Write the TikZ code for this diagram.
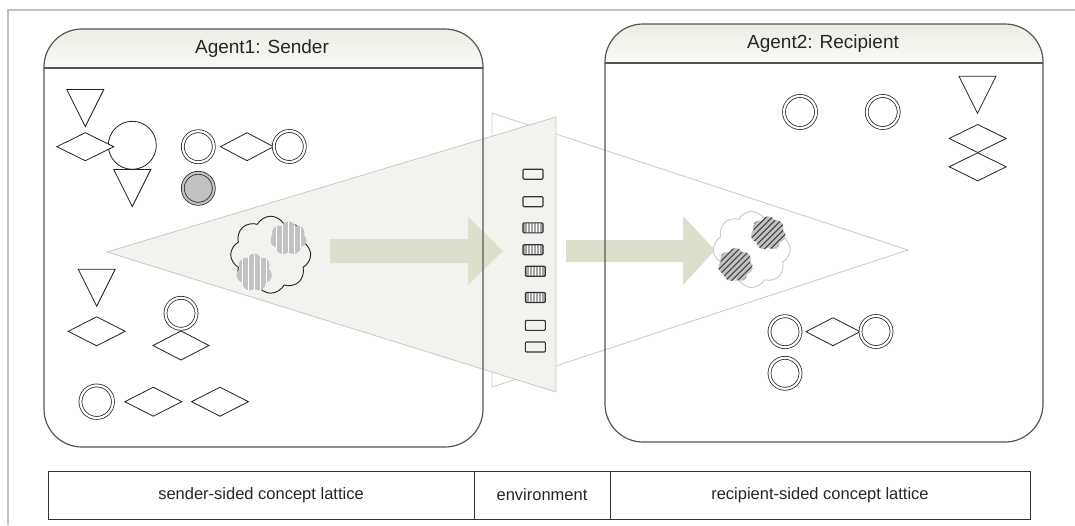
\documentclass[tikz,border=0pt]{standalone}
\usepackage{fontspec}
\setmainfont{Liberation Sans}
\usetikzlibrary{shapes.geometric,shapes.symbols}
\definecolor{trifill}{HTML}{F2F3EE}
\definecolor{triline}{HTML}{C9C9C4}
\definecolor{arrowfill}{HTML}{DCDFCB}
\definecolor{boxc}{HTML}{555555}
\definecolor{shpc}{HTML}{222222}
\definecolor{greyc}{HTML}{C2C2C2}
\definecolor{framec}{HTML}{C0C0C0}
\definecolor{headtop}{HTML}{ECEDE4}
\definecolor{headbot}{HTML}{F9F9F6}
\definecolor{cloudline}{HTML}{C8C8C8}
\definecolor{tablec}{HTML}{333333}
\tikzset{
  tri/.pic={\path[draw=shpc, line width=0.8pt, fill=white] (-18.5,-18.5) -- (18.5,-18.5) -- (0,18.5) -- cycle;},
}
\begin{document}
\begin{tikzpicture}[x=1pt,y=-1pt,
  shp/.style={draw=shpc, line width=0.8pt, fill=white},
  dia/.style={shp, diamond, minimum width=57pt, minimum height=28pt, inner sep=0pt, outer sep=0pt},
  dcirc/.style={circle, draw=shpc, line width=0.75pt, double=white, double distance=2.2pt, fill=white, minimum size=31pt, inner sep=0pt},
  agentbox/.style={rectangle, inner sep=0pt, outer sep=0pt, fill=white, rounded corners=38pt},
  boxline/.style={draw=boxc, line width=1.2pt, rounded corners=38pt},
  title/.style={font=\fontsize{19}{22}\selectfont, text=black!85},
  cell/.style={draw=tablec, line width=0.8pt, minimum height=48pt, inner sep=0pt, outer sep=0pt, font=\fontsize{16.5}{19}\selectfont, text=black!85},
  stripesV/.style={path picture={\foreach \k in {-4,...,4}{\draw[white,line width=1.1pt] ([xshift=\k*6pt]path picture bounding box.north) -- ([xshift=\k*6pt]path picture bounding box.south);}}},
  hatchD/.style={path picture={\foreach \k in {-7,...,7}{\draw[black!75,line width=1pt] ([xshift=\k*6pt-25pt,yshift=-25pt]path picture bounding box.center) -- ([xshift=\k*6pt+25pt,yshift=25pt]path picture bounding box.center);}}},
  subcloud/.style={cloud, cloud puffs=7, cloud puff arc=130, cloud ignores aspect, fill=greyc, inner sep=0pt},
  msg/.style={rectangle, draw=black!80, line width=1.1pt, rounded corners=1pt, minimum width=20pt, minimum height=10pt, inner sep=0pt, fill=trifill},
  msgS/.style={msg, fill=black!35, path picture={\foreach \k in {-6,-3,0,3,6}{\draw[white,line width=0.7pt] ([xshift=\k pt]path picture bounding box.north) -- ([xshift=\k pt]path picture bounding box.south);}}},
]
\useasboundingbox (0,0) rectangle (1075,525);
% outer frame
\draw[framec, line width=1.5pt] (8,525) -- (8,10) -- (1075,10);

% agent box fills
\node[agentbox, minimum width=439pt, minimum height=418pt] (A1) at (263.5,238) {};
\node[agentbox, minimum width=438pt, minimum height=418pt] (A2) at (824,233) {};
\begin{scope}
  \clip[rounded corners=38pt] (A1.north west) rectangle (A1.south east);
  \shade[top color=headtop, bottom color=headbot] (A1.north west) rectangle (A1.east |- 0,68);
\end{scope}
\begin{scope}
  \clip[rounded corners=38pt] (A2.north west) rectangle (A2.south east);
  \shade[top color=headtop, bottom color=headbot] (A2.north west) rectangle (A2.east |- 0,63);
\end{scope}

% perception triangles
\coordinate (T2tip) at (908,250);
\coordinate (T2a) at (492,113);
\coordinate (T2b) at (492,387);
\draw[triline, line width=0.8pt] (T2tip) -- (T2a) -- (T2b) -- cycle;
\coordinate (T1tip) at (107,252);
\coordinate (T1a) at (556,117);
\coordinate (T1b) at (556,392);
\draw[triline, fill=trifill, line width=0.8pt] (T1tip) -- (T1a) -- (T1b) -- cycle;

% block arrows
\fill[arrowfill] (330,239) -- (468,239) -- (468,217) -- (503,251) -- (468,285) -- (468,263) -- (330,263) -- cycle;
\fill[arrowfill] (566,240) -- (683,240) -- (683,216) -- (715,250) -- (683,285) -- (683,262) -- (566,262) -- cycle;

% agent box outlines and headers
\draw[boxline] (A1.north west) rectangle (A1.south east);
\draw[boxc, line width=1.2pt] (A1.west |- 0,68) -- (A1.east |- 0,68);
\draw[boxline] (A2.north west) rectangle (A2.south east);
\draw[boxc, line width=1.2pt] (A2.west |- 0,63) -- (A2.east |- 0,63);
\node[title] (t1) at (262,49) {Agent1: Sender};
\node[title] (t2) at (823,44) {Agent2: Recipient};

% sender shapes
\pic (s1) at (85.3,108) {tri};
\node[shp, circle, minimum size=48pt, inner sep=0pt] (s3) at (132.3,145.3) {};
\node[dia] (s2) at (85.3,146.7) {};
\pic (s4) at (132.3,188) {tri};
\node[dcirc] (s5) at (198.3,146.7) {};
\node[dia, minimum width=53pt] (s6) at (247,146.7) {};
\node[dcirc] (s7) at (289.3,146.5) {};
\node[dcirc, double=greyc, fill=greyc] (s8) at (198.3,188.3) {};
\pic (s9) at (96.7,287.7) {tri};
\node[dia, minimum height=29pt] (s10) at (96.7,331.3) {};
\node[dcirc] (s11) at (181,313.3) {};
\node[dia, minimum width=56pt, minimum height=29pt] (s12) at (181,345.5) {};
\node[dcirc, minimum size=32.5pt] (s13) at (96.7,401.7) {};
\node[dia, minimum height=29pt] (s14) at (153.3,401.7) {};
\node[dia, minimum height=29pt] (s15) at (220,401.7) {};

% sender cloud
\node[cloud, cloud puffs=8, cloud puff arc=125, cloud ignores aspect, draw=shpc, line width=0.9pt, minimum width=80pt, minimum height=77pt, inner sep=0pt] (sc) at (270.7,254.7) {};
\node[subcloud, stripesV, minimum width=37pt, minimum height=34pt] (sc1) at (288.3,238.3) {};
\node[subcloud, stripesV, minimum width=36pt, minimum height=38pt] (sc2) at (254.2,272.5) {};

% recipient shapes
\node[dcirc, minimum size=32pt] (r1) at (800,112) {};
\node[dcirc, minimum size=32pt] (r2) at (882.7,112) {};
\pic (r3) at (977.5,94.7) {tri};
\node[dia] (r4) at (977.7,138.5) {};
\node[dia] (r5) at (977.7,166.8) {};
\node[dcirc] (r6) at (785,331.7) {};
\node[dia, minimum width=54pt] (r7) at (833,331.7) {};
\node[dcirc] (r8) at (876,331.5) {};
\node[dcirc] (r9) at (785,373.3) {};

% recipient cloud
\node[cloud, cloud puffs=8, cloud puff arc=125, cloud ignores aspect, draw=cloudline, fill=white, line width=0.9pt, minimum width=77pt, minimum height=76pt, inner sep=0pt] (rc) at (751.7,249.5) {};
\node[subcloud, hatchD, minimum width=35pt, minimum height=34pt] (rc1) at (768.3,233.3) {};
\node[subcloud, hatchD, minimum width=35pt, minimum height=34pt] (rc2) at (735.5,265) {};

% messages in the environment
\node[msg]  (m1) at (533,174.2) {};
\node[msg]  (m2) at (533,201.7) {};
\node[msgS] (m3) at (533,227.8) {};
\node[msgS] (m4) at (533,249.7) {};
\node[msgS] (m5) at (535.3,271.2) {};
\node[msgS] (m6) at (535.3,297.5) {};
\node[msg]  (m7) at (535.3,325.3) {};
\node[msg]  (m8) at (535.3,347) {};

% legend table
\node[cell, minimum width=426pt] (c1) at (261,495) {sender-sided concept lattice};
\node[cell, minimum width=136pt, anchor=west] (c2) at (c1.east) {environment};
\node[cell, minimum width=420pt, anchor=west] (c3) at (c2.east) {recipient-sided concept lattice};
\end{tikzpicture}
\end{document}
